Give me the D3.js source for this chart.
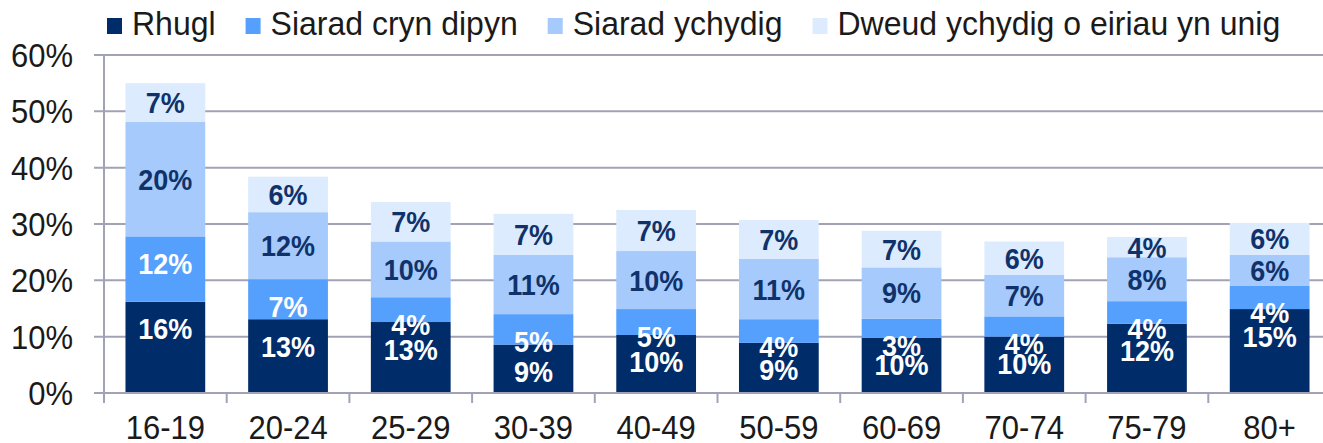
<!DOCTYPE html>
<html>
<head>
<meta charset="utf-8">
<script src="https://cdn.jsdelivr.net/npm/d3@7/dist/d3.min.js"></script>
<style>
  html, body { margin: 0; padding: 0; background: #fff; }
  svg { display: block; }
  text { font-family: "Liberation Sans", Arial, sans-serif; }
</style>
</head>
<body>
<svg id="chart" width="1323" height="443"></svg>
<script>
// ---- data ----
const categories = ["16-19", "20-24", "25-29", "30-39", "40-49", "50-59", "60-69", "70-74", "75-79", "80+"];
const seriesNames = ["Rhugl", "Siarad cryn dipyn", "Siarad ychydig", "Dweud ychydig o eiriau yn unig"];
const rhugl   = [16.2, 13.1, 12.6, 8.6, 10.3, 8.9, 9.8, 10.0, 12.3, 14.9];
const crynDipyn = [11.6, 7.1, 4.4, 5.4, 4.6, 4.2, 3.4, 3.6, 4.0, 4.1];
const ychydig = [20.3, 11.9, 9.9, 10.5, 10.3, 10.7, 9.1, 7.4, 7.8, 5.5];
const dweud   = [6.9, 6.3, 7.0, 7.3, 7.3, 6.9, 6.5, 5.9, 3.6, 5.7];
const yTicks = [0, 10, 20, 30, 40, 50, 60];

// ---- styles ----
const colors = ["#002c6a", "#559ffd", "#a5cafb", "#ddebfe"];
const labelColors = ["#ffffff", "#ffffff", "#10326b", "#10326b"];
const axisColor = "#a2a2b6";
const stretch = 1.08;

const svg = d3.select("#chart");
const mLeft = 104, mRight = 1331, mTop = 55, mBottom = 393;

// slight vertical stretch of glyphs around a given point
function tall(sel, px, py) {
  sel.attr("transform", function(d, i) {
    const X = px(d, i), Y = py(d, i);
    return `translate(${X},${Y}) scale(1,${stretch}) translate(${-X},${-Y})`;
  });
}

const rows = categories.map((c, i) => ({
  cat: c, s0: rhugl[i], s1: crynDipyn[i], s2: ychydig[i], s3: dweud[i]
}));
const keys = ["s0", "s1", "s2", "s3"];
const stacked = d3.stack().keys(keys)(rows);

const x = d3.scaleBand().domain(categories).range([mLeft, mRight])
  .paddingInner(0.35).paddingOuter(0.175);
const y = d3.scaleLinear().domain([0, 60]).range([mBottom, mTop]);
const step = x.step();

// gridlines + y ticks
const gY = svg.append("g").attr("transform", `translate(${mLeft},0)`);
gY.selectAll(".grid").data(yTicks).enter().append("line")
  .attr("x1", -10).attr("x2", mRight - mLeft)
  .attr("y1", d => y(d)).attr("y2", d => y(d))
  .attr("stroke", axisColor).attr("stroke-width", 2);
const yLab = gY.selectAll(".ylab").data(yTicks).enter().append("text")
  .attr("x", -31).attr("y", d => y(d)).attr("dy", "0.36em")
  .attr("text-anchor", "end")
  .attr("font-size", 31).attr("fill", "#1a1a1a")
  .text(d => d + "%");
tall(yLab, () => -31, d => y(d));

// vertical axis line
svg.append("line").attr("x1", mLeft).attr("x2", mLeft)
  .attr("y1", mTop).attr("y2", mBottom + 10)
  .attr("stroke", axisColor).attr("stroke-width", 2);

// x ticks at band boundaries
const xTickPos = categories.map((c, i) => mLeft + step * (i + 1));
svg.selectAll(".xtick").data(xTickPos).enter().append("line")
  .attr("x1", d => d).attr("x2", d => d)
  .attr("y1", mBottom).attr("y2", mBottom + 10)
  .attr("stroke", axisColor).attr("stroke-width", 2);

// bars
const layers = svg.append("g").selectAll("g").data(stacked).enter().append("g")
  .attr("fill", (d, i) => colors[i]);
layers.selectAll("rect").data(d => d).enter().append("rect")
  .attr("x", d => x(d.data.cat))
  .attr("width", x.bandwidth())
  .attr("y", d => y(d[1]))
  .attr("height", d => y(d[0]) - y(d[1]));

// x-axis baseline (over bars)
svg.append("line").attr("x1", mLeft - 10).attr("x2", mRight)
  .attr("y1", mBottom).attr("y2", mBottom)
  .attr("stroke", axisColor).attr("stroke-width", 2);

// data labels
stacked.forEach((layer, si) => {
  const lx = d => x(d.data.cat) + x.bandwidth() / 2;
  const ly = d => si < 2 ? y(d[1]) + 27 : (y(d[0]) + y(d[1])) / 2;
  const t = svg.append("g").selectAll("text").data(layer).enter().append("text")
    .attr("x", lx)
    .attr("y", ly)
    .attr("dy", "0.36em")
    .attr("text-anchor", "middle")
    .attr("font-size", 27).attr("font-weight", "bold")
    .attr("fill", labelColors[si])
    .text(d => Math.round(d[1] - d[0]) + "%");
  tall(t, lx, ly);
});

// x labels
const xLab = svg.append("g").selectAll("text").data(categories).enter().append("text")
  .attr("x", d => x(d) + x.bandwidth() / 2)
  .attr("y", 439)
  .attr("text-anchor", "middle")
  .attr("font-size", 31).attr("fill", "#1a1a1a")
  .text(d => d);
tall(xLab, d => x(d) + x.bandwidth() / 2, () => 439);

// legend
const lg = svg.append("g");
let lgx = 107;
seriesNames.forEach((name, i) => {
  lg.append("rect").attr("x", lgx).attr("y", 18).attr("width", 15).attr("height", 16)
    .attr("fill", colors[i]);
  const t = lg.append("text").attr("x", lgx + 25).attr("y", 35)
    .attr("font-size", 32).attr("fill", "#1a1a1a").text(name);
  const tx = lgx + 25;
  t.attr("transform", `translate(${tx},35) scale(1,1.03) translate(${-tx},-35)`);
  lgx += 25 + t.node().getComputedTextLength() + 30;
});
</script>
</body>
</html>
